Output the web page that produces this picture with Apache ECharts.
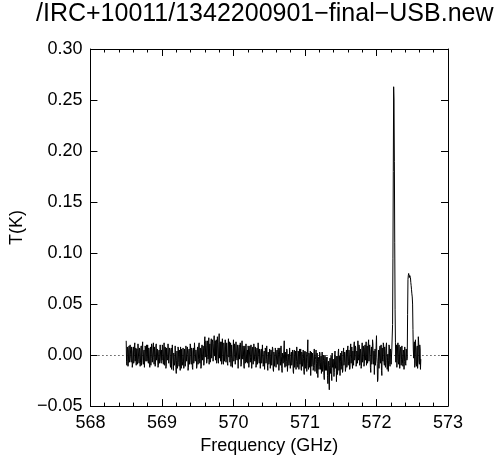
<!DOCTYPE html>
<html>
<head>
<meta charset="utf-8">
<script src="https://cdn.jsdelivr.net/npm/echarts@6/dist/echarts.min.js"></script>
<style>html,body{margin:0;padding:0;background:#fff}#c{width:500px;height:460px}</style>
</head>
<body>
<div id="c"></div>
<script>
var titleText = '/IRC+10011/1342200901\u2212final\u2212USB.new';
var xName = 'Frequency (GHz)';
var yName = 'T(K)';
var xTicks = [568, 569, 570, 571, 572, 573];
var yTicks = [-0.05, 0.00, 0.05, 0.10, 0.15, 0.20, 0.25, 0.30];
// channel grid of the spectrum
var freqStart = 568.50;
var freqStep = 0.005;
// antenna temperature per channel, in mK, 20 channels per 0.1 GHz
var tempMilliK = [
 14,-6,-10,8,6,-11,-8,5,9,-7,-4,10,11,-3,-7,8,3,-12,-9,4,
 8,-8,-5,9,12,-6,-3,7,-10,2,6,-9,-6,11,10,-4,-8,7,4,-11,
 -7,6,9,-10,-2,8,13,-5,-9,3,5,-12,-11,9,7,-6,0,10,-6,-3,
 10,-5,-8,7,4,-9,-12,6,8,-10,-3,11,9,-7,-6,4,12,-2,-9,8,
 3,-11,-7,9,11,-5,-4,6,7,-12,-10,3,5,-8,-2,10,9,-6,-8,5,
 -5,10,8,-7,-9,4,12,-10,-6,8,4,-13,-11,7,6,-5,-3,11,10,-8,
 -8,7,5,-9,-12,4,7,-14,-4,10,9,-6,-15,2,3,-10,-7,9,8,-12,
 -18,-5,4,-13,-9,8,6,-7,-11,5,2,-15,8,-4,-13,6,5,-10,-6,7,
 7,-13,-10,6,3,-11,-8,9,10,-6,-5,8,1,-15,-12,4,6,-9,-4,11,
 9,-5,-9,7,4,-12,-14,3,7,-8,-3,12,11,-6,-7,5,2,-13,-10,6,
 8,-9,-4,10,12,-3,-8,7,5,-13,-11,6,10,-5,-2,9,6,-10,-7,13,
 18,-2,-3,14,9,-8,-6,12,14,-4,0,17,-9,6,11,-7,-4,13,16,-3,
 -2,15,12,-6,-7,11,19,-1,3,14,-5,9,15,-8,-1,18,10,-4,-8,12,
 21,-3,2,13,-6,10,13,-9,-3,16,17,-5,-9,12,8,-6,-2,15,14,-7,
 -4,12,11,-8,-10,9,16,-2,1,13,-7,8,12,-11,-3,10,9,-12,-11,6,
 15,-6,-2,11,8,-9,-8,13,13,-3,-5,10,6,-13,-12,7,10,-4,-1,12,
 7,-11,-9,5,14,-2,-4,9,3,-10,-13,6,9,-8,-6,11,12,-7,-3,5,
 -8,9,6,-12,-11,3,9,-7,-2,10,4,-13,-14,5,8,-9,-5,11,10,-4,
 -6,8,3,-12,-10,5,7,-9,-1,12,11,-4,-8,6,2,-13,-12,4,6,-8,
 -3,10,9,-11,-9,2,4,-14,-13,7,5,-8,-4,9,8,-10,-15,3,1,-9,
 -7,6,4,-13,-12,5,2,-10,-9,8,6,-14,-16,3,0,-11,-5,7,3,-12,
 -11,2,5,-9,-8,7,1,-15,-14,4,7,-10,-6,9,-1,-13,-17,2,3,-8,
 -9,5,14,-7,-12,3,2,-11,-6,6,4,-16,-15,1,-2,-10,-8,7,6,-13,
 -13,1,3,-10,-7,5,-1,-16,-18,2,5,-12,-10,4,0,-14,-6,8,9,-9,
 -12,4,2,-14,-4,6,-9,-1,6,-13,-15,3,1,-11,-7,5,-3,-16,-19,2,
 4,-13,-11,3,-2,-16,-8,6,15,-10,-14,2,0,-12,-6,4,-20,-5,3,-11,
 -9,2,-3,-15,-12,1,6,-10,-16,-4,-1,5,-8,-18,2,-6,-22,-2,-4,-14,
 -11,3,1,-14,-7,-1,-18,-6,3,-16,-13,0,-5,-20,-24,-3,0,-15,-9,-2,
 -15,-4,-2,-20,-28,-8,-6,-22,-34,-10,-3,-18,-12,-1,-19,-25,2,-12,-10,-4,
 -5,-21,-17,-2,4,-13,-9,-1,-26,-10,-1,-19,-13,3,6,-15,-8,-1,-20,-6,
 2,-14,-11,4,-4,-17,-15,1,7,-10,-7,3,-1,-16,-13,2,5,-12,-9,6,
 9,-10,-6,5,1,-14,-12,7,11,-8,-3,8,-8,-13,4,-6,-10,10,13,-5,
 -2,9,7,-11,-9,4,3,-8,14,-2,-5,10,8,-10,-7,6,2,-13,-11,5,
 12,-7,-4,9,6,-11,-8,7,10,-5,0,13,-10,-2,9,-8,-3,11,15,-6,
 -6,10,4,-12,-17,2,8,-9,-1,15,11,-6,-9,4,-19,-5,6,-10,-4,9,
 19,-2,-8,-26,-24,-6,5,-13,-12,7,9,-8,-3,10,-15,-20,7,-4,-6,12,
 10,-7,-10,8,3,-12,-7,9,12,-5,-14,-2,1,-16,-5,10,8,-9,-11,6,
 4,-9,-8,7,6,30,95,180,263,250,190,110,45,12,-7,8,10,-12,-5,9,
 12,-6,-9,10,3,-13,-13,6,8,-10,-4,9,10,-8,-11,5,2,-14,-6,8,
 9,-8,-10,6,4,-5,-3,40,74,78,80,79,76,78,79,76,71,68,64,60,
 57,50,25,5,-3,10,13,-12,-8,15,4,-9,-11,7,9,-13,-5,18,12,-6,
 -9,10,6,-14,-4
];

var seriesData = tempMilliK.map(function (v, i) {
  return [+(freqStart + i * freqStep).toFixed(4), v / 1000];
});

var FONT = '"Liberation Sans", Arial, Helvetica, sans-serif';
function fmtY(v) {
  var s = Math.abs(v).toFixed(2);
  return (v < -1e-9 ? '\u2212' : '') + s;
}

var chart = echarts.init(document.getElementById('c'), null, {renderer: 'canvas'});
var axisLine = {show: true, onZero: false, lineStyle: {color: '#000', width: 1}};
chart.setOption({
  animation: false,
  backgroundColor: '#fff',
  title: {
    text: titleText, left: 36, top: 2, padding: 0,
    textStyle: {fontFamily: FONT, fontSize: 25, fontWeight: 'normal', color: '#000'}
  },
  grid: {left: 88, right: 52, top: 49, bottom: 52, containLabel: false},
  xAxis: [{
    type: 'value', position: 'bottom', min: xTicks[0], max: xTicks[xTicks.length - 1], interval: 1,
    name: xName, nameLocation: 'middle', nameGap: 27,
    nameTextStyle: {fontFamily: FONT, fontSize: 18, color: '#000'},
    axisLine: axisLine,
    axisTick: {show: true, inside: true, length: 7, lineStyle: {color: '#000'}},
    minorTick: {show: true, splitNumber: 5, length: 3.5, lineStyle: {color: '#000'}},
    axisLabel: {fontFamily: FONT, fontSize: 18, color: '#000', margin: 8},
    splitLine: {show: false}
  }, {
    type: 'value', position: 'top', min: xTicks[0], max: xTicks[xTicks.length - 1], interval: 1,
    axisLine: axisLine,
    axisTick: {show: true, inside: true, length: 7, lineStyle: {color: '#000'}},
    minorTick: {show: true, splitNumber: 5, length: 3.5, lineStyle: {color: '#000'}},
    axisLabel: {show: false},
    splitLine: {show: false}
  }],
  yAxis: [{
    type: 'value', position: 'left', min: yTicks[0], max: yTicks[yTicks.length - 1], interval: 0.05,
    name: yName, nameLocation: 'middle', nameGap: 62, nameRotate: 90,
    nameTextStyle: {fontFamily: FONT, fontSize: 18, color: '#000'},
    axisLine: axisLine,
    axisTick: {show: true, inside: true, length: 7, lineStyle: {color: '#000'}},
    axisLabel: {fontFamily: FONT, fontSize: 18, color: '#000', margin: 8, formatter: fmtY},
    splitLine: {show: false}
  }, {
    type: 'value', position: 'right', min: yTicks[0], max: yTicks[yTicks.length - 1], interval: 0.05,
    axisLine: axisLine,
    axisTick: {show: true, inside: true, length: 7, lineStyle: {color: '#000'}},
    axisLabel: {show: false},
    splitLine: {show: false}
  }],
  series: [{
    type: 'line', xAxisIndex: 0, yAxisIndex: 0,
    data: seriesData, showSymbol: false, symbol: 'none',
    lineStyle: {color: '#000', width: 1}, itemStyle: {color: '#000'},
    markLine: {
      silent: true, symbol: ['none', 'none'], label: {show: false},
      lineStyle: {color: '#000', type: [1, 3], width: 1},
      data: [{yAxis: 0}]
    },
    z: 3
  }]
});
</script>
</body>
</html>
